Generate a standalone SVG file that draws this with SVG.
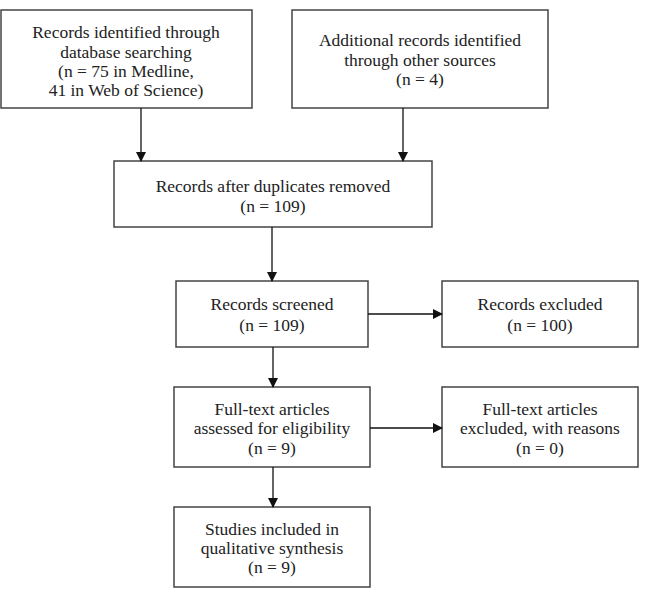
<svg xmlns="http://www.w3.org/2000/svg" width="648" height="606" viewBox="0 0 648 606">
<defs>
<marker id="ah" markerWidth="10" markerHeight="10" refX="9" refY="5" orient="auto" markerUnits="userSpaceOnUse">
<path d="M0,0 L10,5 L0,10 Z" fill="#111"/>
</marker>
<style>
.box{fill:#fff;stroke:#444;stroke-width:1.5}
.t{font-family:"Liberation Serif","DejaVu Serif",serif;font-size:17.5px;fill:#222;text-anchor:middle}
.c{stroke:#111;stroke-width:1.3;fill:none;marker-end:url(#ah)}
</style>
</defs>
<rect width="648" height="606" fill="#fff"/>
<g id="n1"><rect class="box" x="1" y="10" width="251" height="98"/>
<text class="t" x="126" y="38">Records identified through</text>
<text class="t" x="126" y="58">database searching</text>
<text class="t" x="126" y="77">(n = 75 in Medline,</text>
<text class="t" x="126" y="96">41 in Web of Science)</text></g>
<g id="n2"><rect class="box" x="292" y="10" width="256" height="98"/>
<text class="t" x="420" y="46">Additional records identified</text>
<text class="t" x="420" y="66">through other sources</text>
<text class="t" x="420" y="85">(n = 4)</text></g>
<g id="n3"><rect class="box" x="114" y="161" width="318" height="66"/>
<text class="t" x="273" y="192">Records after duplicates removed</text>
<text class="t" x="273" y="212">(n = 109)</text></g>
<g id="n4"><rect class="box" x="176" y="281" width="192" height="66"/>
<text class="t" x="272" y="310">Records screened</text>
<text class="t" x="272" y="331">(n = 109)</text></g>
<g id="n5"><rect class="box" x="442" y="281" width="196" height="66"/>
<text class="t" x="540" y="310">Records excluded</text>
<text class="t" x="540" y="331">(n = 100)</text></g>
<g id="n6"><rect class="box" x="174" y="387" width="196" height="80"/>
<text class="t" x="272" y="415">Full-text articles</text>
<text class="t" x="272" y="434">assessed for eligibility</text>
<text class="t" x="272" y="454">(n = 9)</text></g>
<g id="n7"><rect class="box" x="442" y="387" width="196" height="80"/>
<text class="t" x="540" y="415">Full-text articles</text>
<text class="t" x="540" y="434">excluded, with reasons</text>
<text class="t" x="540" y="454">(n = 0)</text></g>
<g id="n8"><rect class="box" x="174" y="507" width="196" height="80"/>
<text class="t" x="272" y="535">Studies included in</text>
<text class="t" x="272" y="554">qualitative synthesis</text>
<text class="t" x="272" y="573">(n = 9)</text></g>
<g id="connectors">
<line class="c" x1="141" y1="108" x2="141" y2="161"/>
<line class="c" x1="403" y1="108" x2="403" y2="161"/>
<line class="c" x1="272" y1="227" x2="272" y2="281"/>
<line class="c" x1="368" y1="314" x2="442" y2="314"/>
<line class="c" x1="273" y1="347" x2="273" y2="387"/>
<line class="c" x1="370" y1="428" x2="442" y2="428"/>
<line class="c" x1="273" y1="467" x2="273" y2="507"/>
</g>
</svg>
